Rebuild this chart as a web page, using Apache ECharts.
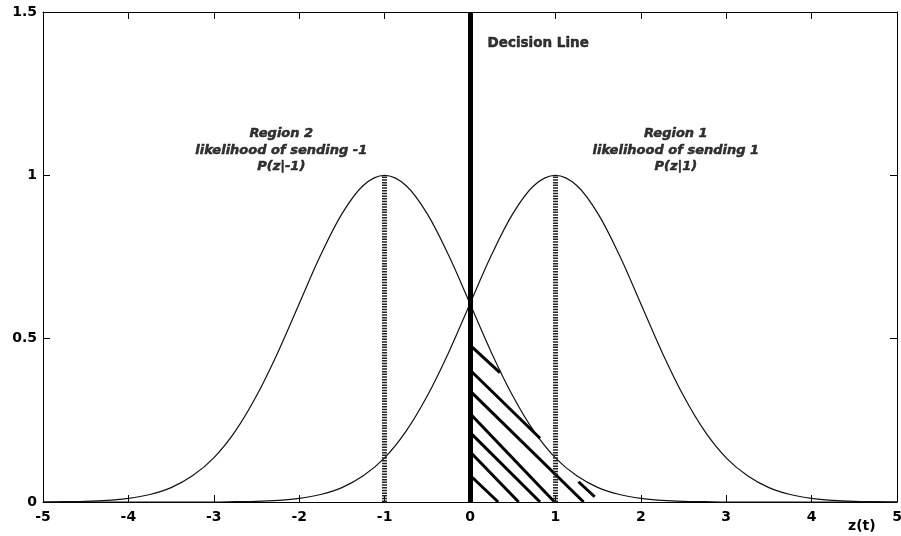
<!DOCTYPE html>
<html><head><meta charset="utf-8">
<script src="https://cdn.jsdelivr.net/npm/echarts@6/dist/echarts.min.js"></script>
<style>html,body{margin:0;padding:0;background:#fff}#c{width:901px;height:536px}</style>
</head><body><div id="c"></div>
<script>
// z(t) sample positions
const zValues = [-5,-4.75,-4.5,-4.25,-4,-3.75,-3.5,-3.25,-3,-2.75,-2.5,-2.25,-2,-1.75,-1.5,-1.25,-1,-0.75,-0.5,-0.25,0,0.25,0.5,0.75,1,1.25,1.5,1.75,2,2.25,2.5,2.75,3,3.25,3.5,3.75,4,4.25,4.5,4.75,5];
// likelihood of sending -1 : P(z|-1)
const pGivenMinus1 = [0.000,0.001,0.002,0.005,0.011,0.023,0.044,0.080,0.135,0.216,0.325,0.458,0.607,0.755,0.882,0.969,1.000,0.969,0.882,0.755,0.607,0.458,0.325,0.216,0.135,0.080,0.044,0.023,0.011,0.005,0.002,0.001,0.000,0.000,0.000,0.000,0.000,0.000,0.000,0.000,0.000];
// likelihood of sending 1 : P(z|1)
const pGivenPlus1 = [0.000,0.000,0.000,0.000,0.000,0.000,0.000,0.000,0.000,0.001,0.002,0.005,0.011,0.023,0.044,0.080,0.135,0.216,0.325,0.458,0.607,0.755,0.882,0.969,1.000,0.969,0.882,0.755,0.607,0.458,0.325,0.216,0.135,0.080,0.044,0.023,0.011,0.005,0.002,0.001,0.000];
const xTickLabels = ['-5','-4','-3','-2','-1','0','1','2','3','4','5'];
const yTickLabels = ['0','0.5','1','1.5'];
const decisionLine = [[0,0],[0,1.5]];
const meanLines = [[[-1,0],[-1,1]],[[1,0],[1,1]]];
// hatch segments of the error region (x,y pairs)
const hatchSegments = [
  [[0,0.480],[0.35,0.396]],
  [[0,0.404],[0.82,0.195]],
  [[1.27,0.062],[1.46,0.016]],
  [[0,0.340],[1.33,0]],
  [[0,0.271],[0.99,0]],
  [[0,0.213],[0.82,0]],
  [[0,0.154],[0.57,0]],
  [[0,0.082],[0.33,0]]
];
const annotations = [
  {pos:[-2.21,1.077], text:'Region 2\nlikelihood of sending -1\nP(z|-1)', italic:true, align:'center'},
  {pos:[2.41,1.077], text:'Region 1\nlikelihood of sending 1\nP(z|1)', italic:true, align:'center'},
  {pos:[0.2,1.405], text:'Decision Line', italic:false, align:'left'}
];

const chart = echarts.init(document.getElementById('c'));
const FONT = 'DejaVu Sans';
const axisLine = {show:true, onZero:false, lineStyle:{color:'#000', width:1}};
const tick = {show:true, inside:true, length:7, lineStyle:{color:'#000', width:1}};
const series = [
  {type:'line', data: zValues.map((z,i)=>[z,pGivenMinus1[i]]), smooth:0.35, symbol:'none', lineStyle:{color:'#111', width:1.2}, silent:true, z:2},
  {type:'line', data: zValues.map((z,i)=>[z,pGivenPlus1[i]]), smooth:0.35, symbol:'none', lineStyle:{color:'#111', width:1.2}, silent:true, z:2},
  {type:'lines', coordinateSystem:'cartesian2d', data: hatchSegments.map(s=>({coords:s})), lineStyle:{color:'#000', width:3, opacity:1}, silent:true, z:3},
  {type:'lines', coordinateSystem:'cartesian2d', data: meanLines.map(s=>({coords:s})), lineStyle:{color:'#222', width:5, type:[1.5,1.2], opacity:1}, silent:true, z:3},
  {type:'lines', coordinateSystem:'cartesian2d', data: [{coords:decisionLine}], lineStyle:{color:'#000', width:5, opacity:1}, silent:true, z:4}
];
annotations.forEach(a=>{
  series.push({type:'scatter', data:[a.pos], symbolSize:1, itemStyle:{color:'rgba(0,0,0,0)'}, silent:true, z:5,
    label:{show:true, position: a.align==='center' ? 'inside' : 'right', distance:0, formatter:a.text,
      color:'#000', textBorderColor:'#000', textBorderWidth:0.5,
      fontFamily:FONT, fontWeight:'bold', fontStyle:a.italic?'italic':'normal',
      fontSize:a.italic?13:13.5, lineHeight:16.5, align:a.align}});
});
chart.setOption({
  animation:false,
  backgroundColor:'#fff',
  grid:{left:43, right:4, top:12, bottom:34, outerBoundsMode:'none', containLabel:false},
  xAxis:[
    {type:'value', min:-5, max:5, interval:1, position:'bottom', axisLine, axisTick:tick,
     splitLine:{show:false},
     axisLabel:{color:'#000', fontFamily:FONT, fontWeight:'bold', fontSize:14, margin:8,
       formatter:v=>xTickLabels[Math.round(v+5)]}},
    {type:'value', min:-5, max:5, interval:1, position:'top', axisLine, axisTick:tick,
     splitLine:{show:false}, axisLabel:{show:false}}
  ],
  yAxis:[
    {type:'value', min:0, max:1.5, interval:0.5, position:'left', axisLine, axisTick:tick,
     splitLine:{show:false},
     axisLabel:{color:'#000', fontFamily:FONT, fontWeight:'bold', fontSize:14, margin:6,
       formatter:v=>yTickLabels[Math.round(v/0.5)]}},
    {type:'value', min:0, max:1.5, interval:0.5, position:'right', axisLine, axisTick:tick,
     splitLine:{show:false}, axisLabel:{show:false}}
  ],
  graphic:[{type:'text', left:848, top:519, style:{text:'z(t)', fill:'#000', font:'bold 14px "DejaVu Sans"'}}],
  series
});
</script></body></html>
